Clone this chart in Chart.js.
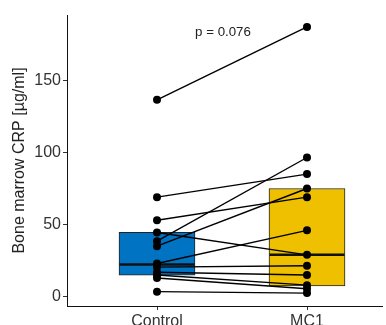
<!DOCTYPE html>
<html>
<head>
<meta charset="utf-8">
<script src="https://cdn.jsdelivr.net/npm/chart.js@4.4.1/dist/chart.umd.min.js"></script>
<style>
  html, body { margin: 0; padding: 0; background: #fff; overflow: hidden; }
  #wrap { width: 386px; height: 325px; }
</style>
</head>
<body>
<div id="wrap"><canvas id="grafico"></canvas></div>
<script>
// ========= Datos =========
const grupos = ["Control", "MC1"];
const posGrupos = [1, 2];
const ticksY = [0, 50, 100, 150];

// valores pareados (cada indice = un sujeto)
const valoresControl = [136.5, 69, 53, 44.5, 38.5, 35, 23, 20.5, 17, 15, 13, 3.5];
const valoresMC1 = [187, 85, 69, 29, 96.5, 75, 46, 21.5, 15, 8, 5.5, 2.5];

// cajas: [Q1, Q3] y mediana
const cajaQ1 = [15, 7.5];
const cajaQ3 = [44.6, 75];
const medianas = [22.4, 29];

const textoP = "p = 0.076";
const posP = { x: 1.44, y: 183 };

const coloresCaja = ["#0073C2", "#EFC000"];
const fuente = "'Liberation Sans', Arial, sans-serif";

// ========= Datasets =========
const datasets = [];

// cajas como barras flotantes
datasets.push({
    type: "bar",
    data: grupos.map((g, i) => ({ x: posGrupos[i], y: [cajaQ1[i], cajaQ3[i]] })),
    backgroundColor: coloresCaja,
    borderColor: "#222",
    borderWidth: 1,
    borderSkipped: false,
    barThickness: 76,
    order: 3
});

// medianas
grupos.forEach((g, i) => {
    datasets.push({
        type: "line",
        data: [{ x: posGrupos[i] - 0.25, y: medianas[i] }, { x: posGrupos[i] + 0.25, y: medianas[i] }],
        borderColor: "#111",
        borderWidth: 2.5,
        pointRadius: 0,
        order: 2
    });
});

// lineas pareadas
valoresControl.forEach((v, i) => {
    datasets.push({
        type: "line",
        data: [{ x: posGrupos[0], y: v }, { x: posGrupos[1], y: valoresMC1[i] }],
        borderColor: "#000",
        borderWidth: 1.4,
        pointRadius: 4,
        pointBackgroundColor: "#000",
        pointBorderWidth: 0,
        order: 1
    });
});

// ========= Plugin texto p =========
const textoPPlugin = {
    id: "textoP",
    afterDatasetsDraw(chart) {
        const { ctx, scales } = chart;
        ctx.save();
        ctx.font = `13.3px ${fuente}`;
        ctx.fillStyle = "#222";
        ctx.textAlign = "center";
        ctx.textBaseline = "middle";
        ctx.fillText(textoP, scales.x.getPixelForValue(posP.x), scales.y.getPixelForValue(posP.y));
        ctx.restore();
    }
};

// ========= Grafico =========
new Chart(document.getElementById("grafico").getContext("2d"), {
    type: "bar",
    data: { datasets },
    plugins: [textoPPlugin],
    options: {
        responsive: true,
        maintainAspectRatio: false,
        animation: false,
        layout: { padding: { top: 15, right: 0, left: 0, bottom: 0 } },
        plugins: { legend: { display: false }, tooltip: { enabled: false } },
        scales: {
            x: {
                type: "linear",
                offset: false,
                min: 0.4,
                max: 2.5,
                afterBuildTicks: s => { s.ticks = posGrupos.map(v => ({ value: v })); },
                afterFit: s => { s.height = 19; },
                ticks: {
                    callback: v => grupos[posGrupos.indexOf(v)],
                    color: "#333",
                    font: { family: fuente, size: 16 },
                    padding: 2,
                    maxRotation: 0,
                    autoSkip: false
                },
                grid: { offset: false, drawOnChartArea: false, drawTicks: true, tickLength: 4, color: "#333" },
                border: { color: "#111", width: 1 }
            },
            y: {
                min: -6.45,
                max: 195.3,
                afterBuildTicks: s => { s.ticks = ticksY.map(v => ({ value: v })); },
                afterFit: s => { s.width = 67; },
                ticks: {
                    color: "#333",
                    font: { family: fuente, size: 16 },
                    padding: 2
                },
                grid: { drawOnChartArea: false, drawTicks: true, tickLength: 4, color: "#333" },
                border: { color: "#111", width: 1 },
                title: {
                    display: true,
                    text: "Bone marrow CRP [µg/ml]",
                    color: "#222",
                    font: { family: fuente, size: 16 },
                    padding: { top: 10, bottom: 0 }
                }
            }
        }
    }
});
</script>
</body>
</html>
